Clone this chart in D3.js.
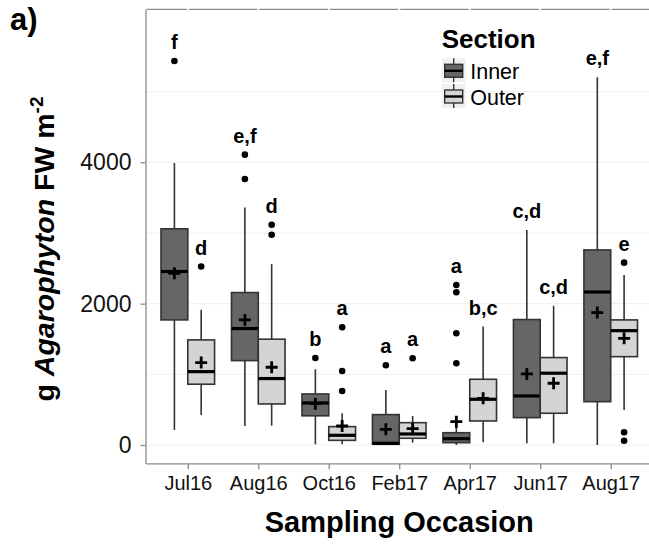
<!DOCTYPE html>
<html>
<head>
<meta charset="utf-8">
<script src="https://cdn.jsdelivr.net/npm/d3@7"></script>
<style>
  body { margin: 0; background: #fff; }
  svg { font-family: "Liberation Sans", Arial, sans-serif; display: block; }
</style>
</head>
<body>
<svg id="chart" width="649" height="544"></svg>
<script>
// Sampling occasions and sections
const categories = ["Jul16", "Aug16", "Oct16", "Feb17", "Apr17", "Jun17", "Aug17"];
const sections = ["Inner", "Outer"];

// Box stats per occasion: [lower whisker, Q1, median, Q3, upper whisker]
const innerStats = [
  [212, 1770, 2455, 3059, 3990],
  [269, 1194, 1648, 2157, 3361],
  [10, 413, 595, 722, 1072],
  [5, 10, 24, 430, 779],
  [0, 33, 89, 174, 280],
  [24, 387, 694, 1775, 3042],
  [0, 613, 2165, 2760, 5203]
];
const outerStats = [
  [425, 860, 1038, 1487, 1912],
  [274, 581, 940, 1497, 2559],
  [10, 66, 137, 260, 449],
  [33, 95, 156, 316, 411],
  [38, 340, 647, 930, 1676],
  [24, 449, 1016, 1237, 1970],
  [495, 1250, 1618, 1770, 2405]
];

// Means (+ markers)
const innerMeans = [2430, 1770, 585, 222, 330, 1006, 1874];
const outerMeans = [1166, 1100, 269, 231, 661, 874, 1510];

// Outliers
const innerOutliers = [[5434], [4108, 3763], [1232], [1129], [2264, 2161, 1581, 1156], [], []];
const outerOutliers = [[2525], [3116, 2975], [1667, 1048, 765], [1227], [], [], [2580, 180, 61]];

// Significance letters
const innerLetters = ["f", "e,f", "b", "a", "a", "c,d", "e,f"];
const outerLetters = ["d", "d", "a", "a", "b,c", "c,d", "e"];

// Axis ticks
const yTicks = [0, 2000, 4000];
const yMinorTicks = [1000, 3000, 5000];

const fills = { Inner: "#666666", Outer: "#d4d4d4" };

// build box records
const boxes = [];
categories.forEach((c, i) => {
  boxes.push({ cat: c, section: "Inner", s: innerStats[i], mean: innerMeans[i], out: innerOutliers[i], letter: innerLetters[i] });
  boxes.push({ cat: c, section: "Outer", s: outerStats[i], mean: outerMeans[i], out: outerOutliers[i], letter: outerLetters[i] });
});

const svg = d3.select("#chart");

const panel = { left: 145.5, right: 653, top: 9.3, bottom: 463.3 };

const x = d3.scalePoint().domain(categories).range([panel.left, panel.right]).padding(0.6);
const xs = d3.scaleBand().domain(sections).range([-x.step() * 0.38, x.step() * 0.38]);
const y = d3.scaleLinear().domain([-259, 6165]).range([panel.bottom, panel.top]);

// grid lines
svg.append("g")
  .selectAll("line")
  .data(yTicks.concat(yMinorTicks))
  .join("line")
  .attr("x1", panel.left).attr("x2", panel.right)
  .attr("y1", d => y(d)).attr("y2", d => y(d))
  .attr("stroke", "#efefef")
  .attr("stroke-width", 1);

// top border with small gaps at each occasion
const bounds = [panel.left].concat(categories.map(c => x(c)), [panel.right]);
svg.append("g")
  .selectAll("line")
  .data(d3.pairs(bounds))
  .join("line")
  .attr("x1", d => d[0] + 1).attr("x2", d => d[1] - 1)
  .attr("y1", panel.top).attr("y2", panel.top)
  .attr("stroke", "#8a8a8a")
  .attr("stroke-width", 1.3);

// axes
const yAxis = svg.append("g")
  .attr("transform", `translate(${panel.left},0)`)
  .call(d3.axisLeft(y).tickValues(yTicks).tickFormat(d3.format("d"))
    .tickSize(5).tickSizeOuter(0).tickPadding(9));
const xAxis = svg.append("g")
  .attr("transform", `translate(0,${panel.bottom})`)
  .call(d3.axisBottom(x).tickSize(6).tickSizeOuter(0).tickPadding(7));

[yAxis, xAxis].forEach(g => {
  g.select(".domain").attr("stroke", "#8a8a8a").attr("stroke-width", 1.3);
  g.selectAll(".tick line").attr("stroke", "#8a8a8a").attr("stroke-width", 1.3);
  g.selectAll(".tick text").attr("fill", "#111").attr("font-family", "Liberation Sans, Arial, sans-serif");
});
yAxis.selectAll(".tick text").attr("font-size", 23);
xAxis.selectAll(".tick text").attr("font-size", 20);

// boxes
const bw = xs.bandwidth();
const g = svg.append("g")
  .selectAll("g")
  .data(boxes)
  .join("g")
  .attr("transform", d => `translate(${x(d.cat) + xs(d.section) + bw / 2},0)`);

// whiskers
g.append("line")
  .attr("y1", d => y(d.s[0])).attr("y2", d => y(d.s[1]))
  .attr("stroke", "#333").attr("stroke-width", 1.6);
g.append("line")
  .attr("y1", d => y(d.s[3])).attr("y2", d => y(d.s[4]))
  .attr("stroke", "#333").attr("stroke-width", 1.6);

// box body
g.append("rect")
  .attr("x", -bw / 2).attr("width", bw)
  .attr("y", d => y(d.s[3]))
  .attr("height", d => y(d.s[1]) - y(d.s[3]))
  .attr("fill", d => fills[d.section])
  .attr("stroke", "#333").attr("stroke-width", 1.6);

// median
g.append("line")
  .attr("x1", -bw / 2).attr("x2", bw / 2)
  .attr("y1", d => y(d.s[2])).attr("y2", d => y(d.s[2]))
  .attr("stroke", "#000").attr("stroke-width", 3.2);

// outliers
g.selectAll("circle")
  .data(d => d.out)
  .join("circle")
  .attr("r", 3.3)
  .attr("cy", d => y(d))
  .attr("fill", "#000");

// mean plus
g.append("path")
  .attr("d", d => {
    const m = y(d.mean);
    return `M-6,${m}H6M0,${m - 6}V${m + 6}`;
  })
  .attr("stroke", "#000").attr("stroke-width", 2.8);

// letters
g.append("text")
  .attr("text-anchor", "middle")
  .attr("y", d => y(d3.max([d.s[4]].concat(d.out))) - 12)
  .attr("font-size", 20)
  .attr("font-weight", "bold")
  .attr("fill", "#000")
  .text(d => d.letter);

// legend
const legend = svg.append("g").attr("transform", "translate(441.7,0)");
legend.append("text")
  .attr("x", 0).attr("y", 48.3)
  .attr("font-size", 26).attr("font-weight", "bold")
  .text("Section");
const item = legend.selectAll(".item")
  .data(sections)
  .join("g")
  .attr("class", "item")
  .attr("transform", (d, i) => `translate(0,${58.3 + i * 25.7})`);
item.append("rect")
  .attr("width", 24).attr("height", 24)
  .attr("fill", "#f0f0f0");
item.append("line")
  .attr("x1", 12).attr("x2", 12).attr("y1", 0).attr("y2", 24)
  .attr("stroke", "#333").attr("stroke-width", 1.4);
item.append("rect")
  .attr("x", 3).attr("y", 6).attr("width", 18).attr("height", 13)
  .attr("fill", d => fills[d])
  .attr("stroke", "#333").attr("stroke-width", 1.4);
item.append("line")
  .attr("x1", 3).attr("x2", 21).attr("y1", 12.5).attr("y2", 12.5)
  .attr("stroke", "#000").attr("stroke-width", 2.4);
item.append("text")
  .attr("x", 28.5).attr("y", 20.7)
  .attr("font-size", 21.5)
  .text(d => d);

// panel tag
svg.append("text")
  .attr("x", 10).attr("y", 30)
  .attr("font-size", 31).attr("font-weight", "bold")
  .text("a)");

// axis titles
svg.append("text")
  .attr("x", (panel.left + panel.right) / 2).attr("y", 531.5)
  .attr("text-anchor", "middle")
  .attr("font-size", 29).attr("font-weight", "bold")
  .text("Sampling Occasion");

const yt = svg.append("text")
  .attr("transform", "translate(53.5,249) rotate(-90)")
  .attr("text-anchor", "middle")
  .attr("font-size", 28.5).attr("font-weight", "bold");
yt.append("tspan").text("g ");
yt.append("tspan").attr("font-style", "italic").text("Agarophyton");
yt.append("tspan").text(" FW m");
yt.append("tspan").attr("font-size", 19).attr("dy", -11).text("-2");
</script>
</body>
</html>
